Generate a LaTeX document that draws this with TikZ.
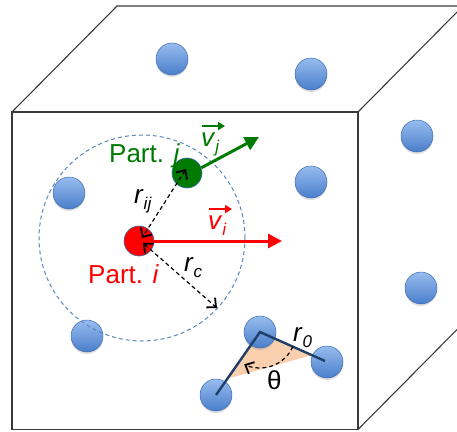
\documentclass[tikz,border=0pt]{standalone}
\usepackage{fontspec}
\setmainfont{Liberation Sans}
\usetikzlibrary{arrows.meta,shadows,calc}
\definecolor{balltop}{HTML}{97BCEE}
\definecolor{ballbot}{HTML}{4A7ECB}
\definecolor{ballrim}{HTML}{3D6DB3}
\definecolor{circblue}{HTML}{5A86BE}
\definecolor{bondblue}{HTML}{1F3E68}
\definecolor{peach}{HTML}{F9CFAE}
\definecolor{pgreen}{HTML}{007A00}
\definecolor{edgegray}{HTML}{3A3A3A}
\tikzset{
  ball/.style={circle, minimum size=32pt, inner sep=0pt, draw=ballrim, line width=0.5pt,
    top color=balltop, bottom color=ballbot,
    drop shadow={opacity=0.25, shadow xshift=0pt, shadow yshift=-2pt}},
  redball/.style={circle, minimum size=30pt, inner sep=0pt, draw=ballrim, line width=0.6pt, fill=red},
  greenball/.style={circle, minimum size=30pt, inner sep=0pt, draw=ballrim, line width=0.6pt, fill=pgreen},
  cubeedge/.style={draw=edgegray, line width=1.1pt},
  lbl/.style={inner sep=0pt, font=\fontsize{26}{30}\selectfont},
  barb/.tip={Straight Barb[length=7pt,width=13pt,line width=1.8pt]},
  dasharrow/.style={dashed, dash pattern=on 4pt off 3pt, line width=1.2pt, barb-barb},
  velarrow/.style={line width=3pt, -{Triangle[length=14pt,width=14pt]}},
  overarrow/.style={line width=2pt, -{Triangle[length=7pt,width=8pt]}},
  bond/.style={draw=bondblue, line width=2.4pt},
}
\newcommand{\sub}[1]{\raisebox{-6pt}{\fontsize{17}{17}\selectfont\itshape #1}}
\begin{document}
\begin{tikzpicture}[x=1pt,y=-1pt]
\useasboundingbox (0,0) rectangle (457,431);
\begin{scope}
\clip (0,0) rectangle (457,431);
% cube
\coordinate (f1) at (12,112);
\coordinate (f2) at (358,112);
\coordinate (f3) at (358,429.5);
\coordinate (f4) at (12,429.5);
\coordinate (b1) at (117,6);
\coordinate (b2) at (463,6);
\coordinate (b3) at (463,323.5);
\draw[cubeedge] (f1) -- (f2) -- (f3) -- (f4) -- cycle;
\draw[cubeedge] (f1) -- (b1) -- (b2);
\draw[cubeedge] (f2) -- (b2);
\draw[cubeedge] (f3) -- (b3);
\end{scope}
% wedge
\coordinate (wv) at (260,332);
\coordinate (wl) at (216,395);
\coordinate (wr) at (325,361);
\fill[peach] (wv) -- ($(wv)!0.74!(wl)$) -- ($(wv)!0.8!(wr)$) -- cycle;
% blue particles
\node[ball] (p1) at (172,59) {};
\node[ball] (p2) at (311,74) {};
\node[ball] (p3) at (417,136) {};
\node[ball] (p4) at (69,193) {};
\node[ball] (p5) at (311,182) {};
\node[ball] (p6) at (421,288) {};
\node[ball] (p7) at (87,336) {};
\node[ball] (p8) at (260,332) {};
\node[ball] (p9) at (327,362) {};
\node[ball] (p10) at (216,395) {};
% cutoff circle
\coordinate (c0) at (142,238);
\draw[circblue, line width=1pt, dash pattern=on 4pt off 3pt] (c0) circle[radius=103pt];
% bonds
\draw[bond, line join=miter] (wl) -- (wv) -- (wr);
% theta arc
\draw[dashed, dash pattern=on 4pt off 3pt, line width=1.2pt, -barb]
  ($(wv)+(-24:36pt)$) arc[start angle=-24, end angle=-116, radius=36pt];
% particles i, j
\node[redball] (pi) at (139,241) {};
\node[greenball] (pj) at (187,173) {};
% velocity arrows
\coordinate (vie) at (282,241);
\coordinate (vje) at (259,137);
\draw[velarrow, red] (pi.east) -- (vie);
\draw[velarrow, pgreen] (pj.20) -- (vje);
% distance arrows
\coordinate (rce) at (217,308);
\draw[dasharrow] ($(pj.center)+(-1,-4)$) -- ($(pi.center)+(3,-3)$);
\draw[dasharrow] ($(pi.center)+(4,2)$) -- (rce);
% labels
\node[lbl, pgreen, anchor=base west] (lj) at (109,162) {Part. \textit{j}};
\node[lbl, red, anchor=base west] (li) at (88,283) {Part. \textit{i}};
\node[lbl, pgreen, anchor=base west] (lvj) at (201,146) {\textit{v}\sub{j}};
\node[lbl, red, anchor=base west] (lvi) at (208,229) {\textit{v}\sub{i}};
\draw[overarrow, pgreen] ($(lvj.north west)+(1,-6)$) -- ++(23,0);
\draw[overarrow, red] ($(lvi.north west)+(1,-6)$) -- ++(23,0);
\node[lbl, anchor=base west] (lrij) at (134,203) {\textit{r}\sub{ij}};
\node[lbl, anchor=base west] (lrc) at (184,271) {\textit{r}\sub{c}};
\node[lbl, anchor=base west] (lr0) at (293,341) {\textit{r}\sub{0}};
\node[lbl, anchor=base west] (lth) at (267,389) {θ};
\end{tikzpicture}
\end{document}
